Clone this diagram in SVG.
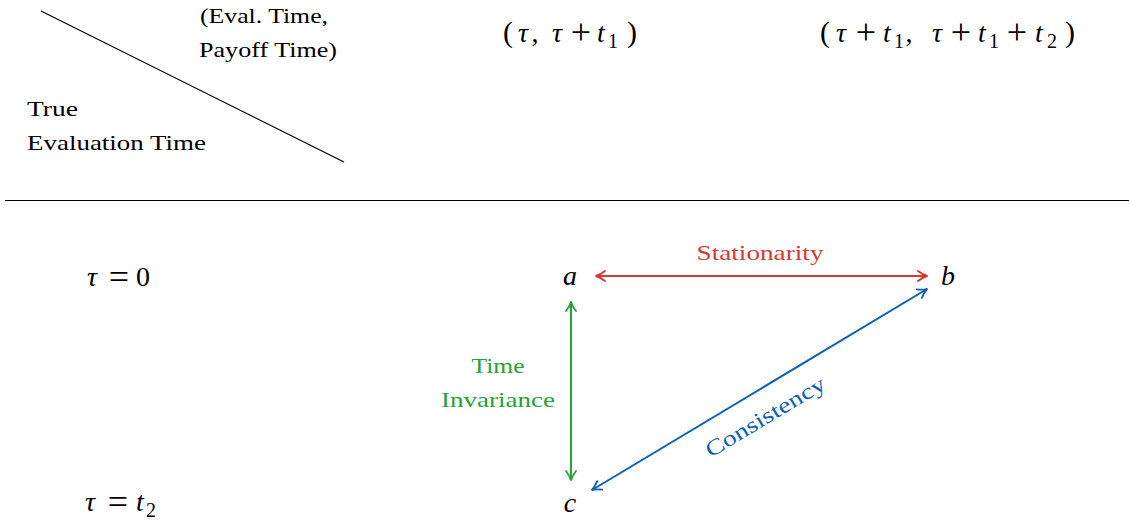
<svg xmlns="http://www.w3.org/2000/svg" width="1130" height="522" viewBox="0 0 1130 522">
<style>
.t{font-family:"Liberation Serif",serif;font-size:22px;fill:#000}
.m{font-family:"Liberation Serif",serif;font-size:28px;fill:#000}
.i{font-style:italic}
.s{font-size:20px}
.o{font-size:36px}
.p{font-size:30px}
.red{fill:#d23a36}
.grn{fill:#27a235}
.blu{fill:#0b62b3}
</style>
<defs>
<marker id="arR" viewBox="0 0 12 12" refX="10" refY="6" markerWidth="12" markerHeight="12" markerUnits="userSpaceOnUse" orient="auto-start-reverse">
<path d="M1,1 Q6,5 10.5,6 Q6,7 1,11" fill="none" stroke="#d23a36" stroke-width="1.8" stroke-linecap="round"/>
</marker>
<marker id="arG" viewBox="0 0 12 12" refX="10" refY="6" markerWidth="12" markerHeight="12" markerUnits="userSpaceOnUse" orient="auto-start-reverse">
<path d="M1,1 Q6,5 10.5,6 Q6,7 1,11" fill="none" stroke="#27a235" stroke-width="1.8" stroke-linecap="round"/>
</marker>
<marker id="arB" viewBox="0 0 12 12" refX="10" refY="6" markerWidth="12" markerHeight="12" markerUnits="userSpaceOnUse" orient="auto-start-reverse">
<path d="M1,1 Q6,5 10.5,6 Q6,7 1,11" fill="none" stroke="#0b62b3" stroke-width="1.8" stroke-linecap="round"/>
</marker>
</defs>

<g id="header">
<line x1="41" y1="11" x2="344" y2="162" stroke="#000" stroke-width="1.2"/>
<text class="t" x="200" y="23" textLength="128" lengthAdjust="spacingAndGlyphs">(Eval. Time,</text>
<text class="t" x="199" y="57" textLength="138" lengthAdjust="spacingAndGlyphs">Payoff Time)</text>
<text class="t" x="27" y="116" textLength="51" lengthAdjust="spacingAndGlyphs">True</text>
<text class="t" x="27" y="150" textLength="179" lengthAdjust="spacingAndGlyphs">Evaluation Time</text>
<text class="m" y="42" text-anchor="middle"><tspan class="p" x="508">(</tspan><tspan class="i" x="523">τ</tspan><tspan x="535">,</tspan><tspan class="i" x="557">τ</tspan><tspan class="o" x="581" y="44">+</tspan><tspan class="i" x="601" y="42">t</tspan><tspan class="s" x="613" y="48">1</tspan><tspan class="p" x="632" y="42">)</tspan></text>
<text class="m" y="42" text-anchor="middle"><tspan class="p" x="825">(</tspan><tspan class="i" x="841">τ</tspan><tspan class="o" x="866" y="44">+</tspan><tspan class="i" x="887" y="42">t</tspan><tspan class="s" x="899" y="48">1</tspan><tspan x="909" y="42">,</tspan><tspan class="i" x="937">τ</tspan><tspan class="o" x="961" y="44">+</tspan><tspan class="i" x="982" y="42">t</tspan><tspan class="s" x="994" y="48">1</tspan><tspan class="o" x="1017" y="44">+</tspan><tspan class="i" x="1039" y="42">t</tspan><tspan class="s" x="1052" y="48">2</tspan><tspan class="p" x="1070" y="42">)</tspan></text>
<line x1="5" y1="200.5" x2="1129" y2="200.5" stroke="#000" stroke-width="1"/>
</g>

<g id="row-labels">
<text class="m" y="286" text-anchor="middle"><tspan class="i" x="92">τ</tspan><tspan class="o" x="119" y="289">=</tspan><tspan x="143" y="286">0</tspan></text>
<text class="m" y="511" text-anchor="middle"><tspan class="i" x="90">τ</tspan><tspan class="o" x="118" y="514">=</tspan><tspan class="i" x="140" y="511">t</tspan><tspan class="s" x="151" y="517">2</tspan></text>
</g>

<g id="node-a"><text class="m i" x="570" y="285" text-anchor="middle">a</text></g>
<g id="node-b"><text class="m i" x="948" y="285" text-anchor="middle">b</text></g>
<g id="node-c"><text class="m i" x="570" y="512" text-anchor="middle">c</text></g>

<g id="connectors" fill="none" stroke-width="2">
<line x1="596" y1="276" x2="927" y2="276" stroke="#d23a36" marker-start="url(#arR)" marker-end="url(#arR)"/>
<line x1="571" y1="302" x2="571" y2="480" stroke="#27a235" marker-start="url(#arG)" marker-end="url(#arG)"/>
<line x1="592" y1="490" x2="927" y2="289" stroke="#0b62b3" marker-start="url(#arB)" marker-end="url(#arB)"/>
</g>

<g id="labels">
<text class="t red" x="760" y="260" text-anchor="middle" textLength="127" lengthAdjust="spacingAndGlyphs">Stationarity</text>
<text class="t grn" x="498" y="373" text-anchor="middle" textLength="53" lengthAdjust="spacingAndGlyphs">Time</text>
<text class="t grn" x="498" y="407" text-anchor="middle" textLength="114" lengthAdjust="spacingAndGlyphs">Invariance</text>
<text class="t blu" transform="translate(769,423) rotate(-31)" x="0" y="0" text-anchor="middle" textLength="136" lengthAdjust="spacingAndGlyphs">Consistency</text>
</g>
</svg>
